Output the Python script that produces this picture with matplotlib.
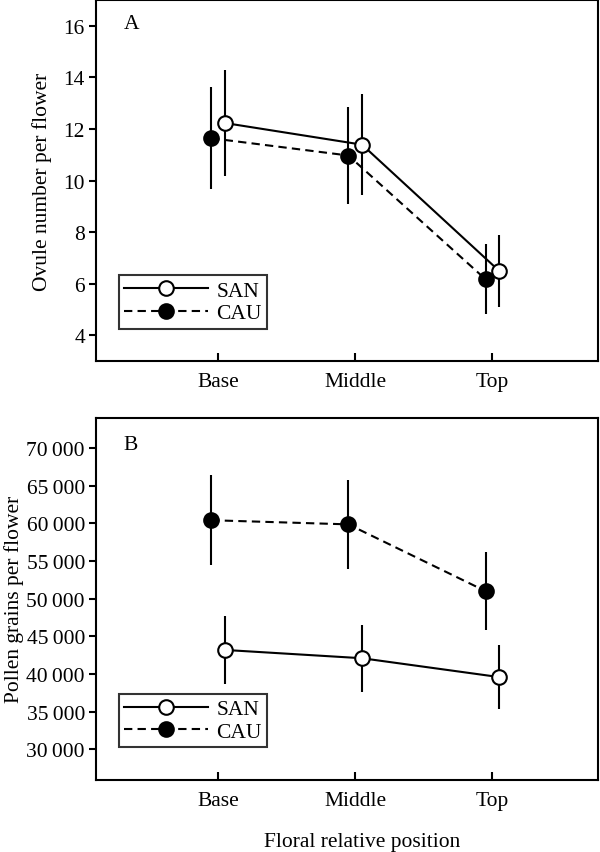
import matplotlib
matplotlib.use("Agg")
import matplotlib.pyplot as plt
import numpy as np

plt.rcParams['font.family'] = ['Liberation Serif', 'DejaVu Serif']

positions = ['Base', 'Middle', 'Top']

# Panel A: ovules per flower (mean, sd)
ovule_san = [12.23, 11.39, 6.49]
ovule_san_err = [2.05, 1.97, 1.40]
ovule_cau = [11.64, 10.97, 6.17]
ovule_cau_err = [1.98, 1.90, 1.35]

# Panel B: pollen grains per flower (mean, sd)
pollen_san = [43200, 42100, 39600]
pollen_san_err = [4500, 4450, 4200]
pollen_cau = [60400, 59850, 51000]
pollen_cau_err = [5950, 5900, 5200]

ovule_ticks = [4, 6, 8, 10, 12, 14, 16]
pollen_ticks = [30000, 35000, 40000, 45000, 50000, 55000, 60000, 65000, 70000]

FS = 15.5
x = np.arange(1, 4)
off = 0.05

fig = plt.figure(figsize=(6, 8.53), dpi=100)
axA = fig.add_axes([0.16, 0.5756, 0.8367, 0.4232])
axB = fig.add_axes([0.16, 0.0848, 0.8367, 0.4244])


def draw(ax, san, san_err, cau, cau_err):
    ax.errorbar(x + off, san, yerr=san_err, fmt='none', ecolor='black',
                elinewidth=1.5, capsize=0, zorder=1)
    ax.errorbar(x - off, cau, yerr=cau_err, fmt='none', ecolor='black',
                elinewidth=1.5, capsize=0, zorder=1)
    ax.plot(x + off, san, '-', color='black', lw=1.5, marker='o', ms=10.5,
            mfc='white', mec='black', mew=1.5, label='SAN', zorder=3)
    ax.plot(x - off, cau, color='black', lw=1.5, ls=(0, (4, 2.5)), marker='o',
            ms=10.5, mfc='black', mec='black', mew=1.5, label='CAU', zorder=2)
    ax.set_xlim(0.11, 3.77)
    ax.set_xticks(x)
    ax.set_xticklabels(positions, fontsize=FS)
    ax.tick_params(axis='x', direction='in', length=6, width=1.5, pad=8)
    ax.tick_params(axis='y', direction='out', length=5, width=1.5, labelsize=FS, pad=3)
    for s in ax.spines.values():
        s.set_linewidth(1.5)
    leg = ax.legend(loc='lower left', bbox_to_anchor=(0.045, 0.09), fontsize=FS,
                    handlelength=3.9, frameon=True, fancybox=False,
                    edgecolor='black', borderpad=0.25, labelspacing=0.1,
                    handletextpad=0.4, borderaxespad=0)
    leg.get_frame().set_linewidth(1.5)


draw(axA, ovule_san, ovule_san_err, ovule_cau, ovule_cau_err)
axA.set_ylim(3, 17)
axA.set_yticks(ovule_ticks)
axA.set_ylabel('Ovule number per flower', fontsize=FS, labelpad=8)
axA.text(0.055, 0.935, 'A', transform=axA.transAxes, fontsize=FS, va='center')

draw(axB, pollen_san, pollen_san_err, pollen_cau, pollen_cau_err)
axB.set_ylim(26000, 74000)
axB.set_yticks(pollen_ticks)
axB.set_yticklabels([f'{t // 1000}\u2009000' for t in pollen_ticks])
axB.set_ylabel('Pollen grains per flower', fontsize=FS, labelpad=2)
axB.text(0.055, 0.925, 'B', transform=axB.transAxes, fontsize=FS, va='center')

fig.text(362 / 600, 1 - 843 / 853, 'Floral relative position', fontsize=FS,
         ha='center', va='center')

fig.savefig('out.png', dpi=100)
